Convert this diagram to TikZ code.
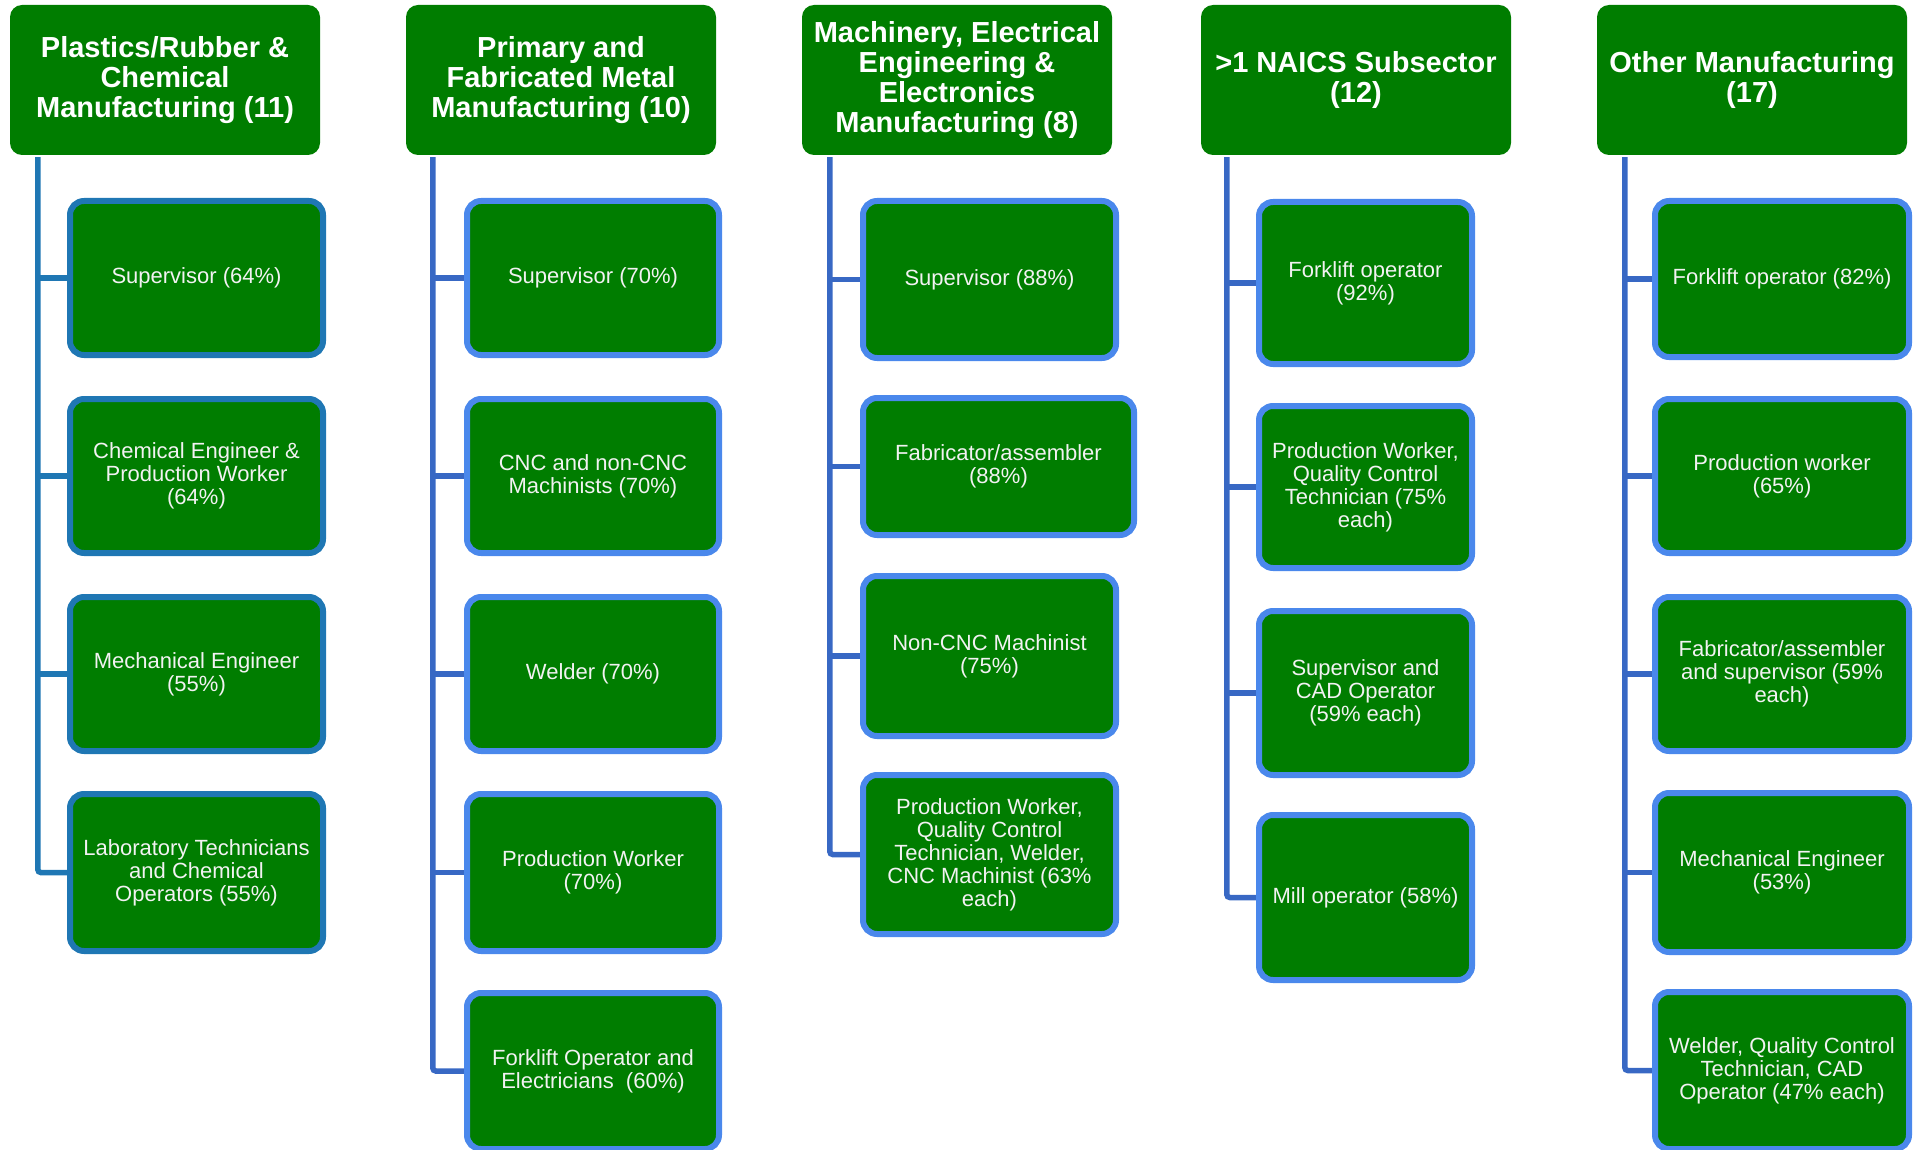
\documentclass[tikz,border=0pt]{standalone}
\usepackage{fontspec}
\setmainfont{Liberation Sans}
\usetikzlibrary{calc,backgrounds}
\definecolor{boxgreen}{RGB}{0,125,0}
\definecolor{bordblue}{RGB}{74,136,236}
\definecolor{linkblue}{RGB}{56,104,196}
\definecolor{steelb}{RGB}{31,119,180}
\definecolor{txtw}{RGB}{242,242,242}
\begin{document}
\begin{tikzpicture}[x=1pt,y=-1pt,
  head/.style={fill=boxgreen, rounded corners=12pt, text=white,
    font=\bfseries\fontsize{29}{30}\selectfont, align=center, inner sep=0pt,
    minimum width=310pt, minimum height=150pt},
  item/.style={fill=boxgreen, draw=bordblue, line width=6pt, rounded corners=14pt,
    text=txtw, font=\fontsize{22}{23}\selectfont, align=center, inner sep=0pt},
  itemA/.style={item, draw=steelb},
  conn/.style={draw=linkblue, line width=5.5pt, rounded corners=3pt},
  connA/.style={conn, draw=steelb}]
\path[use as bounding box] (0,0) rectangle (1917,1150);

% headers
\node[head] (h1) at (165,80) {Plastics/Rubber \&\\Chemical\\Manufacturing (11)};
\node[head] (h2) at (561,80) {Primary and\\Fabricated Metal\\Manufacturing (10)};
\node[head] (h3) at (957,80) {Machinery, Electrical\\Engineering \&\\Electronics\\Manufacturing (8)};
\node[head] (h4) at (1356,80) {>1 NAICS Subsector\\(12)};
\node[head] (h5) at (1752,80) {Other Manufacturing\\(17)};

% column 1
\node[itemA, minimum width=253pt, minimum height=154pt] (c11) at (196.5,278) {Supervisor (64\%)};
\node[itemA, minimum width=253pt, minimum height=154pt] (c12) at (196.5,476) {Chemical Engineer \&\\Production Worker\\(64\%)};
\node[itemA, minimum width=253pt, minimum height=154pt] (c13) at (196.5,674) {Mechanical Engineer\\(55\%)};
\node[itemA, minimum width=253pt, minimum height=157pt] (c14) at (196.5,872.5) {Laboratory Technicians\\and Chemical\\Operators (55\%)};

% column 2
\node[item, minimum width=252pt, minimum height=154pt] (c21) at (593,278) {Supervisor (70\%)};
\node[item, minimum width=252pt, minimum height=154pt] (c22) at (593,476) {CNC and non-CNC\\Machinists (70\%)};
\node[item, minimum width=252pt, minimum height=154pt] (c23) at (593,674) {Welder (70\%)};
\node[item, minimum width=252pt, minimum height=157pt] (c24) at (593,872.5) {Production Worker\\(70\%)};
\node[item, minimum width=252pt, minimum height=156pt] (c25) at (593,1071) {Forklift Operator and\\Electricians\ \ (60\%)};

% column 3
\node[item, minimum width=253pt, minimum height=157pt] (c31) at (989.5,279.5) {Supervisor (88\%)};
\node[item, minimum width=271pt, minimum height=137pt] (c32) at (998.5,466.5) {Fabricator/assembler\\(88\%)};
\node[item, minimum width=253pt, minimum height=160pt] (c33) at (989.5,656) {Non-CNC Machinist\\(75\%)};
\node[item, minimum width=253pt, minimum height=159pt] (c34) at (989.5,854.5) {Production Worker,\\Quality Control\\Technician, Welder,\\CNC Machinist (63\%\\each)};

% column 4
\node[item, minimum width=213pt, minimum height=162pt] (c41) at (1365.5,283) {Forklift operator\\(92\%)};
\node[item, minimum width=213pt, minimum height=162pt] (c42) at (1365.5,487) {Production Worker,\\Quality Control\\Technician (75\%\\each)};
\node[item, minimum width=213pt, minimum height=164pt] (c43) at (1365.5,693) {Supervisor and\\CAD Operator\\(59\% each)};
\node[item, minimum width=213pt, minimum height=165pt] (c44) at (1365.5,897.5) {Mill operator (58\%)};

% column 5
\node[item, minimum width=254pt, minimum height=156pt] (c51) at (1782,279) {Forklift operator (82\%)};
\node[item, minimum width=254pt, minimum height=154pt] (c52) at (1782,476) {Production worker\\(65\%)};
\node[item, minimum width=254pt, minimum height=154pt] (c53) at (1782,674) {Fabricator/assembler\\and supervisor (59\%\\each)};
\node[item, minimum width=254pt, minimum height=159pt] (c54) at (1782,872.5) {Mechanical Engineer\\(53\%)};
\node[item, minimum width=254pt, minimum height=157pt] (c55) at (1782,1070.5) {Welder, Quality Control\\Technician, CAD\\Operator (47\% each)};

% trunk starts
\coordinate (t1) at ($(h1.south west)+(28,2)$);
\coordinate (t2) at ($(h2.south west)+(27,2)$);
\coordinate (t3) at ($(h3.south west)+(28,2)$);
\coordinate (t4) at ($(h4.south west)+(26,2)$);
\coordinate (t5) at ($(h5.south west)+(28,2)$);

\begin{scope}[on background layer]
\draw[connA] (t1) |- (c14.west);
\foreach \c in {c11,c12,c13} \draw[connA] (t1 |- \c.west) -- (\c.west);
\draw[conn] (t2) |- (c25.west);
\foreach \c in {c21,c22,c23,c24} \draw[conn] (t2 |- \c.west) -- (\c.west);
\draw[conn] (t3) |- (c34.west);
\foreach \c in {c31,c32,c33} \draw[conn] (t3 |- \c.west) -- (\c.west);
\draw[conn] (t4) |- (c44.west);
\foreach \c in {c41,c42,c43} \draw[conn] (t4 |- \c.west) -- (\c.west);
\draw[conn] (t5) |- (c55.west);
\foreach \c in {c51,c52,c53,c54} \draw[conn] (t5 |- \c.west) -- (\c.west);
\end{scope}
\end{tikzpicture}
\end{document}
